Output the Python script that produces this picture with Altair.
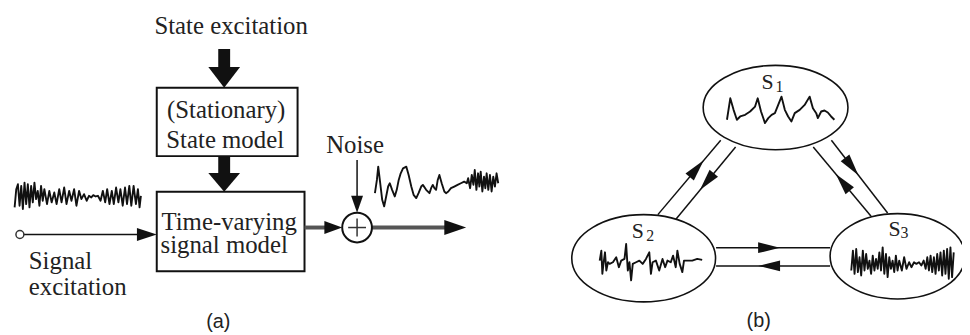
import math
import altair as alt
import pandas as pd

# ---------------- values (pixel space of the figure) ----------------
# panel (a) texts
a_labels = ["State excitation", "(Stationary)", "State model", "Time-varying", "signal model", "Noise"]
a_label_x = [233, 228, 227, 231, 226, 358]
a_label_y = [33, 118, 148, 230, 254, 153]
a_left_labels = ["Signal", "excitation"]
a_left_x = [29, 29]
a_left_y = [270, 296]
panel_tags = ["(a)", "(b)"]
panel_tag_x = [220, 765]
panel_tag_y = [323, 322]

# panel (a) boxes
box_x1 = [158, 158]
box_x2 = [300, 307]
box_y1 = [87, 192]
box_y2 = [156, 272]

# straight connectors: x1, y1, x2, y2
seg_x1 = [24, 307, 375, 360, 226, 226, 360, 351]
seg_y1 = [235, 228, 228, 160, 48, 156, 219, 228]
seg_x2 = [140, 330, 452, 360, 226, 226, 360, 369]
seg_y2 = [235, 228, 228, 198, 68, 174, 237, 228]
seg_w = [1.5, 4, 4, 1.5, 12, 12, 1.5, 1.5]
seg_c = ["#111", "#555", "#555", "#111", "#111", "#111", "#333", "#333"]

# arrow heads of panel (a): tip x, tip y, direction (deg), length, width
arr_x = [158, 345, 360, 470, 226, 226]
arr_y = [235, 228, 213, 228, 87, 192]
arr_dir = [0, 0, 90, 0, 90, 90]
arr_len = [20, 18, 17, 22, 21, 19]
arr_wid = [13, 13, 12, 15, 32, 32]

# summing junction and input terminal
sum_x, sum_y, sum_r = 360, 228, 15
term_x, term_y, term_r = 20, 235, 4

# panel (b) states
state_sub = ["1", "2", "3"]
state_cx = [782, 649, 905]
state_cy = [107, 259, 257]
state_rx = [73, 72.5, 68]
state_ry = [42.5, 44, 43]
state_sx = [774, 643, 902]
state_sy = [81, 232, 229.5]
state_subx = [786, 655.5, 912]
state_suby = [86, 237, 234]

# panel (b) transitions: from (x1,y1) to (x2,y2); arrow tip position as fraction along the link
link_x1 = [663.3, 741.7, 838.3, 878.3, 722, 837]
link_y1 = [215, 146.7, 140, 216.7, 248.3, 266.7]
link_x2 = [726.7, 681.7, 895, 820, 837, 722]
link_y2 = [140, 219.3, 213.3, 146.7, 248.3, 266.7]
link_frac = [0.73, 0.60, 0.48, 0.61, 0.56, 0.63]

# waveforms (read at 1/3 px from zoomed crops): sample position t, vertical reading v
sig_t = [20,25,30,35,40,45,50,55,60,65,70,75,80,85,90,95,100,105,110,118,125,132,140,147,155,162,170,177,185,192,
         200,207,215,222,230,238,245,252,258,265,272,280,287,294,300,307,314,320,327,334,340,347,354,360,367,373,380,387,393,398,402]
sig_v = [95,40,25,90,30,100,20,85,25,95,30,80,20,70,45,90,30,75,40,85,45,80,50,85,40,80,35,85,45,75,
         40,90,45,70,55,75,60,65,58,62,60,75,45,80,40,85,45,85,35,80,40,90,35,85,30,90,30,85,40,95,60]
noise_t = [90,96,100,106,112,118,124,130,135,142,150,156,162,168,175,185,192,200,207,215,222,230,235,245,255,260,265,270,275,280,
           285,292,300,305,312,320,330,340,350,360,368,372,378,383,388,392,397,402,406,410,415,420,424,428,433,438,443,448,453,458,463]
noise_v = [100,60,20,70,120,140,110,80,70,90,110,90,60,40,25,20,45,80,105,115,100,80,75,90,100,85,75,85,90,60,
           45,70,95,100,95,85,80,75,70,65,70,55,85,45,75,30,90,40,80,35,95,50,85,40,90,45,95,50,80,40,70]
s1_t = [15,25,35,45,55,70,85,100,108,118,130,140,150,160,170,180,190,200,210,220,235,250,265,275,285,290,300,310,320,330,340]
s1_v = [100,35,70,100,90,85,75,60,35,75,110,95,85,80,55,30,70,90,105,80,70,55,30,65,80,95,75,72,78,90,100]
s2_t = [20,25,28,32,36,40,45,50,60,70,78,85,95,100,105,110,115,120,130,140,150,160,170,175,180,190,200,210,218,225,
        235,242,250,255,262,270,275,285,300,315,330]
s2_v = [70,40,110,75,45,100,75,80,75,60,90,70,65,20,100,75,130,80,75,70,80,65,45,110,75,70,100,65,90,70,
        75,55,90,40,80,105,70,70,70,65,68]
s3_t = [25,30,35,40,45,50,55,60,65,70,75,80,85,90,95,100,105,110,115,120,125,130,135,140,145,150,155,160,165,170,
        178,185,192,200,207,215,222,230,237,244,250,255,260,265,270,275,280,285,290,295,300,305,310,315,320,325,330,335]
s3_v = [100,40,110,35,105,60,115,40,100,50,95,70,110,55,100,65,95,45,100,30,110,50,120,60,95,70,105,55,100,70,
        100,60,95,75,90,75,80,75,85,70,95,60,100,55,105,60,110,50,100,45,115,40,110,35,125,30,120,45]

# ---------------- layout ----------------
wave_list = [("sig", sig_t, sig_v, 8, 176), ("noise", noise_t, noise_v, 348, 160),
             ("s1", s1_t, s1_v, 728, 86), ("s2", s2_t, s2_v, 598, 238), ("s3", s3_t, s3_v, 850, 238)]
READ = 3.0
INK = "#222222"
SERIF = "Liberation Serif"

XS = alt.Scale(domain=[8, 970], nice=False, zero=False)
YS = alt.Scale(domain=[8, 335], nice=False, zero=False, reverse=True)


def X(f="x"):
    return alt.X(f"{f}:Q", scale=XS, axis=None)


def Y(f="y"):
    return alt.Y(f"{f}:Q", scale=YS, axis=None)


layers = []

# boxes
box_df = pd.DataFrame({"x": box_x1, "x2": box_x2, "y": box_y1, "y2": box_y2})
layers.append(alt.Chart(box_df).mark_rect(fill="white", stroke="#111", strokeWidth=2).encode(
    x=X(), x2="x2:Q", y=Y(), y2="y2:Q"))

# panel (b) links added to the connectors
all_x1 = seg_x1 + link_x1
all_y1 = seg_y1 + link_y1
all_x2 = seg_x2 + link_x2
all_y2 = seg_y2 + link_y2
all_w = seg_w + [1.5] * len(link_x1)
all_c = seg_c + ["#111"] * len(link_x1)
seg_df = pd.DataFrame({"x": all_x1, "y": all_y1, "x2": all_x2, "y2": all_y2, "w": all_w, "c": all_c})
layers.append(alt.Chart(seg_df).mark_rule(strokeCap="butt").encode(
    x=X(), y=Y(), x2="x2:Q", y2="y2:Q",
    strokeWidth=alt.StrokeWidth("w:Q", scale=None),
    color=alt.Color("c:N", scale=None)))

# arrow heads
heads = list(zip(arr_x, arr_y, arr_dir, arr_len, arr_wid))
for x1, y1, x2, y2, fr in zip(link_x1, link_y1, link_x2, link_y2, link_frac):
    tx = x1 + (x2 - x1) * fr
    ty = y1 + (y2 - y1) * fr
    ang = math.degrees(math.atan2(y2 - y1, x2 - x1))
    heads.append((tx, ty, ang, 22, 11))
for hx, hy, hd, hl, hw in heads:
    path = f"M0,0 L{-hl},{-hw / 2} L{-hl},{hw / 2} Z"
    df = pd.DataFrame({"x": [hx], "y": [hy], "a": [hd % 360]})
    layers.append(alt.Chart(df).mark_point(shape=path, size=4, filled=True, color="#111",
                                           opacity=1, strokeWidth=0).encode(
        x=X(), y=Y(), angle=alt.Angle("a:Q", scale=None)))

# summing junction and terminal
circ_df = pd.DataFrame({"x": [sum_x], "y": [sum_y]})
layers.append(alt.Chart(circ_df).mark_point(shape="circle", size=(2 * sum_r) ** 2, filled=False,
                                            stroke="#111", strokeWidth=2, opacity=1).encode(x=X(), y=Y()))
term_df = pd.DataFrame({"x": [term_x], "y": [term_y]})
layers.append(alt.Chart(term_df).mark_point(shape="circle", size=(2 * term_r) ** 2, filled=True,
                                            fill="white", stroke="#333", strokeWidth=1.5, opacity=1).encode(x=X(), y=Y()))

# state ellipses
for cx, cy, rx, ry in zip(state_cx, state_cy, state_rx, state_ry):
    path = f"M{-rx},0 A{rx},{ry} 0 1,0 {rx},0 A{rx},{ry} 0 1,0 {-rx},0 Z"
    df = pd.DataFrame({"x": [cx], "y": [cy]})
    layers.append(alt.Chart(df).mark_point(shape=path, size=4, filled=False, stroke="#111",
                                           strokeWidth=1.6, opacity=1).encode(x=X(), y=Y()))

# waveforms
rows = []
for name, ts, vs, ox, oy in wave_list:
    for i, (t, v) in enumerate(zip(ts, vs)):
        rows.append({"g": name, "i": i, "x": ox + t / READ, "y": oy + v / READ})
wave_df = pd.DataFrame(rows)
layers.append(alt.Chart(wave_df).mark_line(color="#111", strokeWidth=1.9, strokeJoin="round").encode(
    x=X(), y=Y(), detail="g:N", order="i:Q"))

# texts
t_df = pd.DataFrame({"t": a_labels, "x": a_label_x, "y": a_label_y})
layers.append(alt.Chart(t_df).mark_text(font=SERIF, fontSize=25, align="center", baseline="alphabetic",
                                        color=INK).encode(x=X(), y=Y(), text="t:N"))
l_df = pd.DataFrame({"t": a_left_labels, "x": a_left_x, "y": a_left_y})
layers.append(alt.Chart(l_df).mark_text(font=SERIF, fontSize=25, align="left", baseline="alphabetic",
                                        color=INK).encode(x=X(), y=Y(), text="t:N"))
p_df = pd.DataFrame({"t": panel_tags, "x": panel_tag_x, "y": panel_tag_y})
layers.append(alt.Chart(p_df).mark_text(font="Liberation Sans", fontSize=20, align="center", baseline="middle",
                                        color=INK).encode(x=X(), y=Y(), text="t:N"))
s_df = pd.DataFrame({"t": ["S"] * 3, "x": state_sx, "y": state_sy})
layers.append(alt.Chart(s_df).mark_text(font=SERIF, fontSize=22, align="center", baseline="middle",
                                        color=INK).encode(x=X(), y=Y(), text="t:N"))
sub_df = pd.DataFrame({"t": state_sub, "x": state_subx, "y": state_suby})
layers.append(alt.Chart(sub_df).mark_text(font=SERIF, fontSize=16, align="center", baseline="middle",
                                          color=INK).encode(x=X(), y=Y(), text="t:N"))

chart = alt.layer(*layers).properties(
    width=962, height=327, padding=0,
    autosize=alt.AutoSizeParams(type="none"),
    background="white",
).configure_view(stroke=None)

chart.save("out.html", embed_options={"renderer": "svg", "actions": False})
